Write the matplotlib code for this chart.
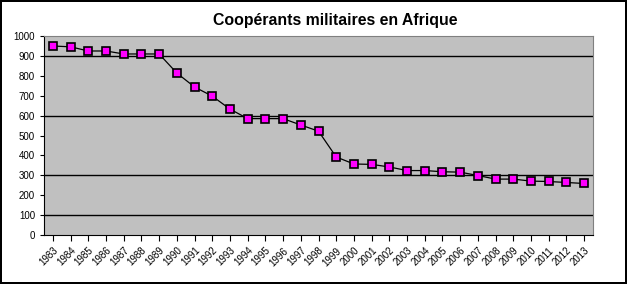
import numpy as np
from matplotlib import pyplot as plt

years = list(range(1983, 2014))
effectifs = [950, 946, 925, 925, 910, 910, 910, 814, 744, 698, 633, 585,
             585, 585, 553, 522, 392, 357, 355, 342, 324, 324, 318, 316,
             299, 281, 281, 271, 269, 264, 259]
grid_levels = [100, 300, 600, 900]


def main():
	plt.rcParams['font.family'] = ['Liberation Sans', 'DejaVu Sans']
	fig = plt.figure(figsize=(6.27, 2.84), dpi=100)
	fig.patch.set_facecolor('white')
	fig.patch.set_edgecolor('black')
	fig.patch.set_linewidth(1.5)
	ax = fig.add_axes([0.0702, 0.1725, 0.8756, 0.7005])
	ax.set_facecolor('#c0c0c0')
	x = np.arange(len(years))
	for g in grid_levels:
		ax.axhline(g, color='black', lw=1, zorder=1)
	ax.plot(x, effectifs, '-', color='black', lw=0.9, marker='s', ms=6,
		markerfacecolor='#ff00ff', markeredgecolor='black', markeredgewidth=1.2, zorder=3)
	ax.set_xlim(-0.5, len(years) - 0.5)
	ax.set_ylim(0, 1000)
	ax.set_yticks(range(0, 1001, 100))
	ax.set_xticks(x)
	ax.set_xticklabels([str(y) for y in years], rotation=45, ha='right',
		rotation_mode='anchor', fontsize=7)
	ax.tick_params(axis='y', labelsize=7, direction='out', length=3)
	ax.tick_params(axis='x', direction='out', length=4)
	for s in ['top', 'right']:
		ax.spines[s].set_color('#808080')
	for s in ['left', 'bottom']:
		ax.spines[s].set_color('black')
	fig.suptitle('Coopérants militaires en Afrique', fontsize=11.4, fontweight='bold',
		y=0.955, x=0.534)
	fig.savefig('out.png', dpi=100, edgecolor=fig.get_edgecolor())
	plt.close()


if __name__ == '__main__':
	main()
